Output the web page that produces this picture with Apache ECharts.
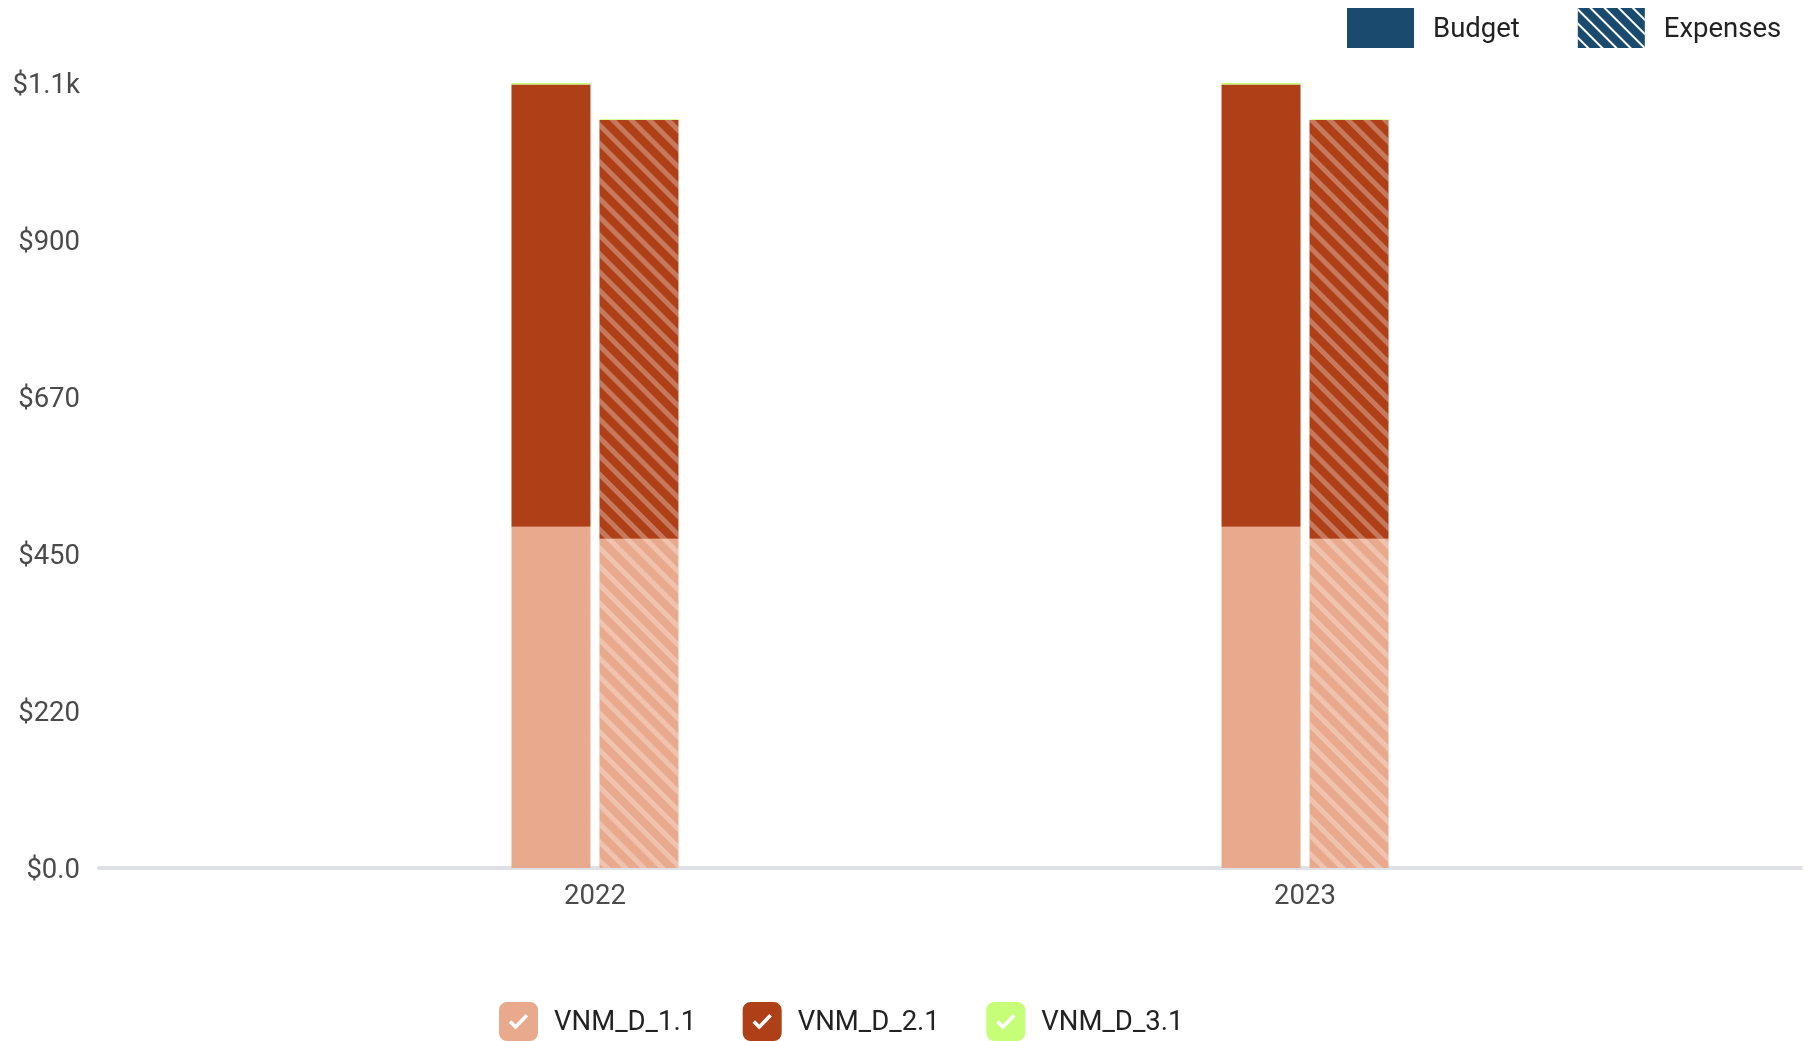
<!DOCTYPE html>
<html>
<head>
<meta charset="utf-8">
<title>Budget vs Expenses</title>
<style>
  html, body { margin: 0; padding: 0; background: #fff; }
  #chart { width: 1810px; height: 1041px; }
</style>
<script src="https://cdn.jsdelivr.net/npm/echarts@6/dist/echarts.min.js"></script>
</head>
<body>
<div id="chart"></div>
<script>
var years = [2022, 2023];
var yTickLabels = ['$0.0', '$220', '$450', '$670', '$900', '$1.1k'];
var groupNames = ['VNM_D_1.1', 'VNM_D_2.1', 'VNM_D_3.1'];
var groupColors = ['#e9a98c', '#ae3f16', '#c6fe78'];
var budget1 = [489, 489];
var budget2 = [634, 634];
var budget3 = [2, 2];
var expenses1 = [472, 472];
var expenses2 = [600, 600];
var expenses3 = [1, 1];

var NAVY = '#1a4a6e';
var FONT = 'Roboto';
// 圆角方块里挖一个对勾
var CHECK_ICON = 'path://M8 0H31A8 8 0 0 1 39 8V31A8 8 0 0 1 31 39H8A8 8 0 0 1 0 31V8A8 8 0 0 1 8 0Z' +
  'M12.4 18.2L9.8 20.8L16.6 27.6L29.2 14.6L26.6 12L16.6 22.4Z';

var barDecal = {
  symbol: 'rect',
  symbolSize: 1,
  color: 'rgba(255,255,255,0.3)',
  dashArrayX: [1, 0],
  dashArrayY: [4.5, 8],
  rotation: Math.PI / 4
};
var legendDecal = {
  symbol: 'rect',
  symbolSize: 1,
  color: '#fff',
  dashArrayX: [1, 0],
  dashArrayY: [2, 8],
  rotation: Math.PI / 4
};

// 值放第一维，这样堆叠才会落在 y 轴上
function pairs(values) {
  return values.map(function(v, i) {
    return [v, years[i]];
  });
}

function bar(name, stack, values, color, decal) {
  return {
    type: 'bar',
    name: name,
    stack: stack,
    barWidth: 79,
    barGap: '11.4%',
    silent: true,
    encode: { x: 1, y: 0 },
    itemStyle: decal ? { color: color, decal: decal } : { color: color },
    data: pairs(values)
  };
}

var legendText = {
  color: '#222',
  fontSize: 27.5,
  fontFamily: FONT,
  rich: {
    t: { color: '#222', fontSize: 27.5, fontFamily: FONT, padding: [4, 0, 0, 0] }
  }
};

function legendLabel(name) {
  return '{t|' + name + '}';
}

echarts.init(document.getElementById('chart')).setOption({
  backgroundColor: '#fff',
  animation: false,
  textStyle: { fontFamily: FONT },
  grid: { left: 99, right: 9, top: 83, bottom: 173 },
  legend: [{
    data: groupNames.map(function(n) {
      return { name: n, icon: CHECK_ICON };
    }),
    left: 499,
    top: 1002,
    padding: 0,
    itemWidth: 39,
    itemHeight: 39,
    itemGap: 46.5,
    selectedMode: false,
    formatter: legendLabel,
    textStyle: Object.assign({ padding: [0, 0, 0, 11] }, legendText)
  }, {
    data: [{ name: 'Budget', icon: 'rect' }, { name: 'Expenses', icon: 'rect' }],
    left: 1347,
    top: 8,
    padding: 0,
    itemWidth: 67,
    itemHeight: 40,
    itemGap: 58,
    selectedMode: false,
    formatter: legendLabel,
    textStyle: Object.assign({ padding: [0, 0, 0, 14] }, legendText)
  }],
  xAxis: {
    type: 'value',
    min: 2021.3015,
    max: 2023.6985,
    splitLine: { show: false },
    axisTick: { show: false },
    axisLine: { show: true, lineStyle: { color: '#dfe1e6', width: 4 } },
    axisLabel: {
      customValues: years,
      formatter: function(v) { return String(v); },
      color: '#4a4a4a',
      fontSize: 27.5,
      fontFamily: FONT,
      margin: 15
    }
  },
  yAxis: {
    type: 'value',
    min: 0,
    max: 1125,
    interval: 225,
    splitLine: { show: false },
    axisTick: { show: false },
    axisLine: { show: false },
    axisLabel: {
      formatter: function(v, i) { return '{t|' + yTickLabels[i] + '}'; },
      margin: 19,
      rich: {
        t: { color: '#4a4a4a', fontSize: 27.5, fontFamily: FONT, padding: [7, 0, 0, 0] }
      }
    }
  },
  series: [
    bar(groupNames[0], 'budget', budget1, groupColors[0]),
    bar(groupNames[1], 'budget', budget2, groupColors[1]),
    bar(groupNames[2], 'budget', budget3, groupColors[2]),
    bar(groupNames[0], 'expenses', expenses1, groupColors[0], barDecal),
    bar(groupNames[1], 'expenses', expenses2, groupColors[1], barDecal),
    bar(groupNames[2], 'expenses', expenses3, groupColors[2], barDecal),
    bar('Budget', 'budget', [], NAVY),
    bar('Expenses', 'expenses', [], NAVY, legendDecal)
  ]
});
</script>
</body>
</html>
